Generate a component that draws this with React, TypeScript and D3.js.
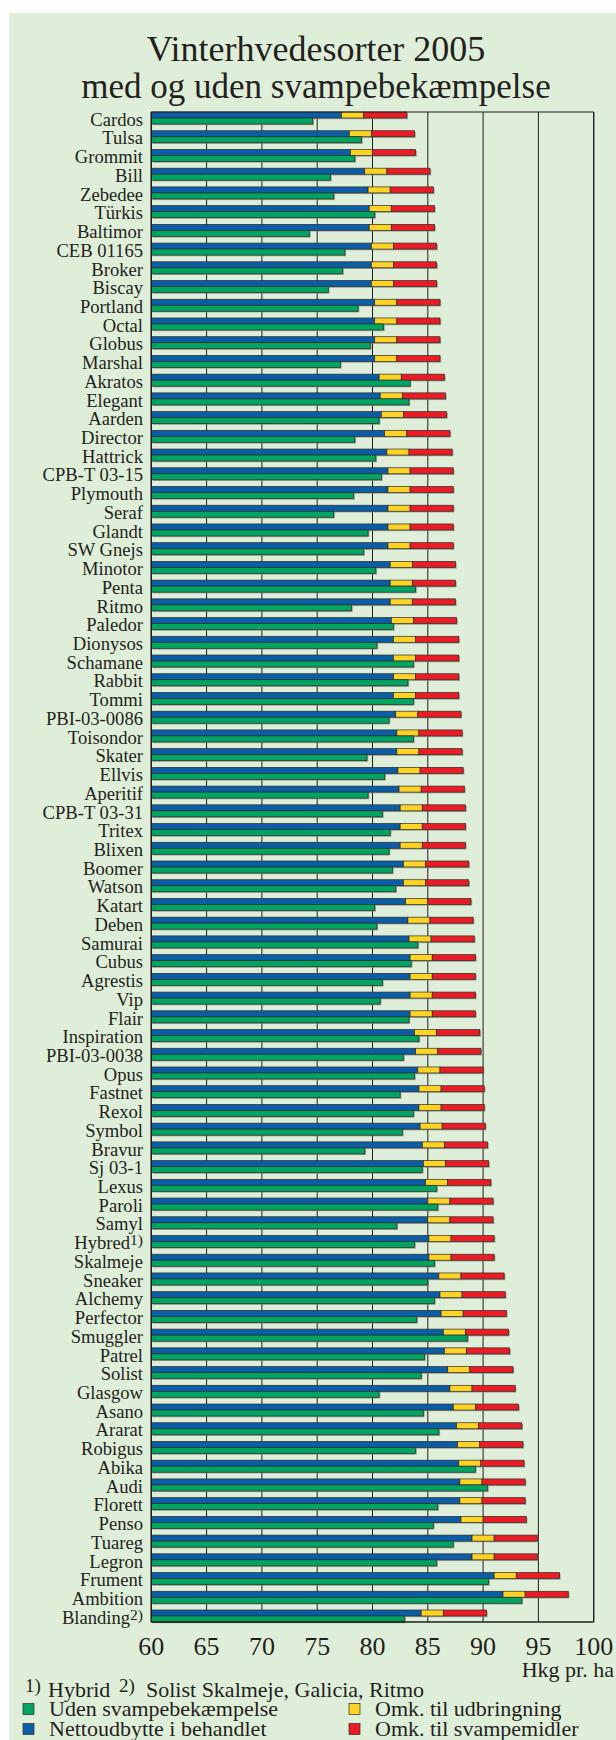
import React from "react";
import * as d3 from "d3";

// Sorter, sorteret efter nettoudbytte (blå), Blanding til sidst
const sorter = [
  "Cardos", "Tulsa", "Grommit", "Bill", "Zebedee", "Türkis", "Baltimor", "CEB 01165",
  "Broker", "Biscay", "Portland", "Octal", "Globus", "Marshal", "Akratos", "Elegant",
  "Aarden", "Director", "Hattrick", "CPB-T 03-15", "Plymouth", "Seraf", "Glandt", "SW Gnejs",
  "Minotor", "Penta", "Ritmo", "Paledor", "Dionysos", "Schamane", "Rabbit", "Tommi",
  "PBI-03-0086", "Toisondor", "Skater", "Ellvis", "Aperitif", "CPB-T 03-31", "Tritex", "Blixen",
  "Boomer", "Watson", "Katart", "Deben", "Samurai", "Cubus", "Agrestis", "Vip",
  "Flair", "Inspiration", "PBI-03-0038", "Opus", "Fastnet", "Rexol", "Symbol", "Bravur",
  "Sj 03-1", "Lexus", "Paroli", "Samyl", "Hybred", "Skalmeje", "Sneaker", "Alchemy",
  "Perfector", "Smuggler", "Patrel", "Solist", "Glasgow", "Asano", "Ararat", "Robigus",
  "Abika", "Audi", "Florett", "Penso", "Tuareg", "Legron", "Frument", "Ambition", "Blanding",
];

// Nettoudbytte i behandlet (hkg/ha)
const netto = [
  77.2, 77.9, 78.0, 79.3, 79.6, 79.7, 79.7, 79.9,
  79.9, 79.9, 80.2, 80.2, 80.2, 80.2, 80.6, 80.7,
  80.8, 81.1, 81.3, 81.4, 81.4, 81.4, 81.4, 81.4,
  81.6, 81.6, 81.6, 81.7, 81.9, 81.9, 81.9, 81.9,
  82.1, 82.2, 82.2, 82.3, 82.4, 82.5, 82.5, 82.5,
  82.8, 82.8, 83.0, 83.2, 83.3, 83.4, 83.4, 83.4,
  83.4, 83.8, 83.9, 84.1, 84.2, 84.2, 84.3, 84.5,
  84.6, 84.8, 85.0, 85.0, 85.1, 85.1, 86.0, 86.1,
  86.2, 86.4, 86.5, 86.8, 87.0, 87.3, 87.6, 87.7,
  87.8, 87.9, 87.9, 88.0, 89.0, 89.0, 91.0, 91.8, 84.4,
];

// Udbytte i behandlet, dvs. enden af den røde del (hkg/ha)
const behandlet = [
  83.1, 83.8, 83.9, 85.2, 85.5, 85.6, 85.6, 85.8,
  85.8, 85.8, 86.1, 86.1, 86.1, 86.1, 86.5, 86.6,
  86.7, 87.0, 87.2, 87.3, 87.3, 87.3, 87.3, 87.3,
  87.5, 87.5, 87.5, 87.6, 87.8, 87.8, 87.8, 87.8,
  88.0, 88.1, 88.1, 88.2, 88.3, 88.4, 88.4, 88.4,
  88.7, 88.7, 88.9, 89.1, 89.2, 89.3, 89.3, 89.3,
  89.3, 89.7, 89.8, 90.0, 90.1, 90.1, 90.2, 90.4,
  90.5, 90.7, 90.9, 90.9, 91.0, 91.0, 91.9, 92.0,
  92.1, 92.3, 92.4, 92.7, 92.9, 93.2, 93.5, 93.6,
  93.7, 93.8, 93.8, 93.9, 94.9, 94.9, 96.9, 97.7, 90.3,
];

// Uden svampebekæmpelse (hkg/ha)
const uden = [
  74.6, 79.0, 78.4, 76.2, 76.5, 80.2, 74.3, 77.5,
  77.3, 76.0, 78.7, 81.0, 79.8, 77.1, 83.4, 83.3,
  80.6, 78.4, 80.3, 80.8, 78.3, 76.5, 79.6, 79.2,
  80.3, 83.9, 78.1, 81.9, 80.4, 83.7, 83.2, 83.7,
  81.5, 83.7, 79.5, 81.1, 79.6, 80.9, 81.6, 81.5,
  81.8, 82.1, 80.2, 80.4, 84.1, 83.5, 80.9, 80.7,
  83.3, 84.2, 82.8, 83.8, 82.5, 83.7, 82.7, 79.3,
  84.5, 85.8, 85.9, 82.2, 83.8, 85.6, 85.0, 85.6,
  84.0, 88.6, 84.7, 84.4, 80.6, 84.6, 86.0, 83.9,
  89.3, 90.4, 85.9, 85.5, 87.3, 85.8, 90.5, 93.5, 82.9,
];

// Omkostning til udbringning (hkg/ha)
const udbringning = 2.0;

const fodnoter: Record<string, string> = { Hybred: "1)", Blanding: "2)" };

const farver = {
  uden: "#00a562",
  netto: "#0b5ea6",
  udbringning: "#ffd324",
  svampemidler: "#ec1c24",
};

const W = 616;
const H = 1740;
const FONT = "'Liberation Serif', 'Times New Roman', serif";
const TXT = "#231f20";

export default function App() {
  const plotLeft = 151.3;
  const plotRight = 593.7;
  const plotTop = 112;
  const axisY = 1622;
  const barH = 6;
  const step = (axisY - plotTop - 2 * barH) / (sorter.length - 1);

  const x = d3.scaleLinear().domain([60, 100]).range([plotLeft, plotRight]);
  const y = d3
    .scaleBand<string>()
    .domain(sorter)
    .range([plotTop, plotTop + step * sorter.length])
    .padding(0);

  const ticks = x.ticks(8);

  const bar = (key: string, x0: number, x1: number, yy: number, fill: string) => (
    <g key={key}>
      <rect x={x(x0) + 1.2} y={yy + 1.2} width={x(x1) - x(x0)} height={barH} fill="#7d8579" opacity={0.75} />
      <rect x={x(x0)} y={yy} width={x(x1) - x(x0)} height={barH} fill={fill} stroke="#2b2b2b" strokeWidth={0.7} />
    </g>
  );

  const legend = [
    { label: "Uden svampebekæmpelse", color: farver.uden, lx: 23, ly: 1709 },
    { label: "Nettoudbytte i behandlet", color: farver.netto, lx: 23, ly: 1729 },
    { label: "Omk. til udbringning", color: farver.udbringning, lx: 349, ly: 1709 },
    { label: "Omk. til svampemidler", color: farver.svampemidler, lx: 349, ly: 1729 },
  ];

  return (
    <div style={{ position: "absolute", left: 0, top: 0 }}>
      <svg width={W} height={H} style={{ display: "block" }} fontFamily={FONT}>
        <rect x={0} y={0} width={W} height={H} fill="#ffffff" />
        <rect x={9} y={13} width={W - 9} height={H - 13} fill="#dfeed8" />

        <text x={316} y={61} textAnchor="middle" fontSize={36} fill={TXT}>
          Vinterhvedesorter 2005
        </text>
        <text x={316} y={98} textAnchor="middle" fontSize={35} fill={TXT}>
          med og uden svampebekæmpelse
        </text>

        {/* gitterlinjer */}
        {ticks.map((t) => (
          <line key={"g" + t} x1={x(t)} x2={x(t)} y1={plotTop} y2={axisY} stroke="#1e1e1e" strokeWidth={1} />
        ))}

        {/* søjler */}
        {sorter.map((s, i) => {
          const y0 = y(s) as number;
          return (
            <g key={s}>
              {bar("n" + i, 60, netto[i], y0, farver.netto)}
              {bar("u" + i, netto[i], netto[i] + udbringning, y0, farver.udbringning)}
              {bar("s" + i, netto[i] + udbringning, behandlet[i], y0, farver.svampemidler)}
              {bar("g" + i, 60, uden[i], y0 + barH, farver.uden)}
            </g>
          );
        })}

        {/* ramme */}
        <line x1={plotLeft} x2={plotRight} y1={plotTop} y2={plotTop} stroke="#1e1e1e" strokeWidth={1.2} />
        <line x1={plotLeft} x2={plotRight} y1={axisY} y2={axisY} stroke="#1e1e1e" strokeWidth={1.4} />
        <line x1={plotLeft} x2={plotLeft} y1={plotTop} y2={axisY} stroke="#1e1e1e" strokeWidth={1.4} />
        <line x1={plotRight} x2={plotRight} y1={plotTop} y2={axisY} stroke="#1e1e1e" strokeWidth={1.2} />

        {/* sortsnavne */}
        {sorter.map((s) => {
          const y0 = y(s) as number;
          const note = fodnoter[s];
          return (
            <text key={"l" + s} x={143} y={y0 + 13.7} textAnchor="end" fontSize={18.6} fill={TXT}>
              {s}
              {note ? (
                <tspan fontSize={15.5} dy={-4}>
                  {note}
                </tspan>
              ) : null}
            </text>
          );
        })}

        {/* akse-tal */}
        {ticks.map((t) => (
          <text key={"t" + t} x={x(t)} y={1655} textAnchor="middle" fontSize={26} fill={TXT}>
            {t}
          </text>
        ))}
        <text x={614} y={1677} textAnchor="end" fontSize={22} fill={TXT}>
          Hkg pr. ha
        </text>

        {/* fodnoter */}
        <text fontSize={22} fill={TXT}>
          <tspan x={25} y={1692} fontSize={19}>1)</tspan>
          <tspan x={48} y={1697}>Hybrid</tspan>
          <tspan x={119} y={1692} fontSize={19}>2)</tspan>
          <tspan x={146} y={1697}>Solist Skalmeje, Galicia, Ritmo</tspan>
        </text>

        {/* signaturforklaring */}
        {legend.map((l) => (
          <g key={l.label}>
            <rect x={l.lx} y={l.ly - 5.5} width={11} height={11} fill={l.color} stroke="#2b2b2b" strokeWidth={0.7} />
            <text x={l.lx + 26} y={l.ly + 7} fontSize={22} fill={TXT}>
              {l.label}
            </text>
          </g>
        ))}
      </svg>
    </div>
  );
}
